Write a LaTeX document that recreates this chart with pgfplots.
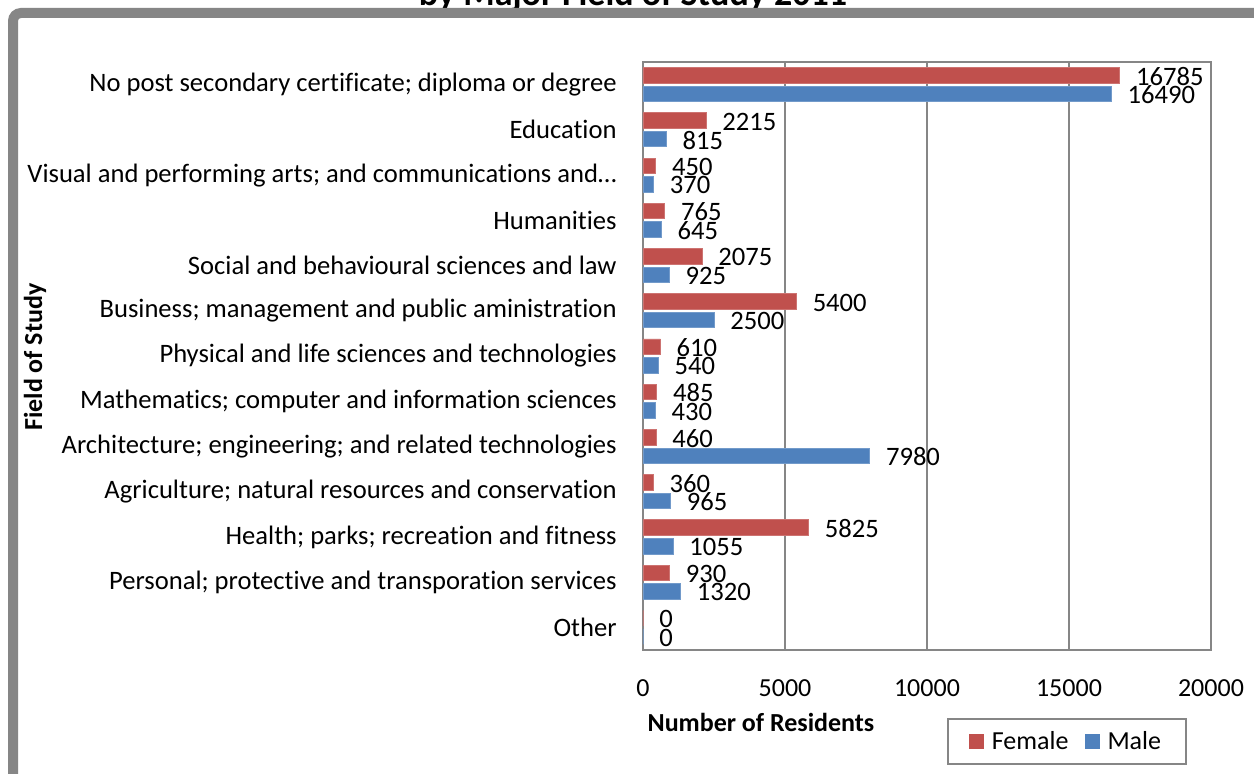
\documentclass[border=0pt]{standalone}
\usepackage{fontspec}
\setmainfont{Carlito}[Ligatures={NoCommon}]
\usepackage{pgfplots}
\pgfplotsset{compat=1.18}
\definecolor{fem}{RGB}{192,80,77}
\definecolor{mal}{RGB}{79,129,189}
\definecolor{frame}{RGB}{134,134,134}
\definecolor{gridc}{RGB}{134,134,134}
\begin{document}
\begin{tikzpicture}[x=0.5pt,y=0.5pt]
\useasboundingbox (0,0) rectangle (1254,773);
\clip (0,0) rectangle (1254,773);
\fill[white] (0,0) rectangle (1254,773);
\node[anchor=base, font=\fontsize{18}{21}\selectfont\bfseries] at (633,767) {by Major Field of Study 2011};
\begin{axis}[
  at={(321.5pt,61.5pt)}, anchor=south west,
  scale only axis, width=284pt, height=294pt,
  xbar,
  xmin=0, xmax=20000, ymin=-0.5, ymax=12.5,
  bar width=7.75pt,
  ytick={0,...,12},
  yticklabels={Other,
    Personal; protective and transporation services,
    Health; parks; recreation and fitness,
    Agriculture; natural resources and conservation,
    Architecture; engineering; and related technologies,
    Mathematics; computer and information sciences,
    Physical and life sciences and technologies,
    Business; management and public aministration,
    Social and behavioural sciences and law,
    Humanities,
    Visual and performing arts; and communications and…,
    Education,
    No post secondary certificate; diploma or degree},
  xtick={0,5000,10000,15000,20000},
  scaled x ticks=false,
  /pgf/number format/fixed,
  /pgf/number format/1000 sep={},
  /pgf/number format/assume math mode=true,
  xmajorgrids,
  grid style={draw=gridc, line width=1pt},
  axis line style={draw=gridc, line width=1pt},
  major tick length=0pt,
  tick style={draw=none},
  font=\fontsize{13}{15.6}\selectfont,
  xticklabel style={anchor=center, yshift=-19pt},
  yticklabel style={anchor=east, inner sep=0pt, xshift=-13pt, font=\fontsize{13.3}{15.6}\selectfont},
  nodes near coords,
  nodes near coords style={anchor=west, inner sep=0pt, xshift=8pt, yshift=-0.5pt, font=\fontsize{13.3}{15.6}\selectfont},
  xlabel={\bfseries Number of Residents},
  ylabel={\bfseries Field of Study},
  every axis x label/.style={at={(axis description cs:0.2077,-0.1224)}, anchor=center},
  every axis y label/.style={at={(axis description cs:-1.0704,0.498)}, anchor=center, rotate=90},
  legend style={at={(axis description cs:0.535,-0.1156)}, anchor=north west,
    draw=gridc, line width=1pt, inner xsep=10.5pt, inner ysep=4pt,
    font=\fontsize{13}{15.6}\selectfont,
    legend columns=2,
    /tikz/every odd column/.append style={column sep=2pt},
    /tikz/every even column/.append style={column sep=6pt}},
  legend image code/.code={\fill[#1,draw=none] (0pt,-3.75pt) rectangle (7.5pt,3.75pt);},
]
\addplot[fill=fem, draw=fem!80!white, line width=0.4pt, bar shift=4.65pt] coordinates {
  (0,0) (930,1) (5825,2) (360,3) (460,4) (485,5) (610,6) (5400,7) (2075,8) (765,9) (450,10) (2215,11) (16785,12)};
\addlegendentry{Female}
\addplot[fill=mal, draw=mal!80!white, line width=0.4pt, bar shift=-4.65pt] coordinates {
  (0,0) (1320,1) (1055,2) (965,3) (7980,4) (430,5) (540,6) (2500,7) (925,8) (645,9) (370,10) (815,11) (16490,12)};
\addlegendentry{Male}
\end{axis}
\draw[frame, line width=5pt, rounded corners=4pt] (13,-30) -- (13,760) -- (1300,760);
\end{tikzpicture}
\end{document}
